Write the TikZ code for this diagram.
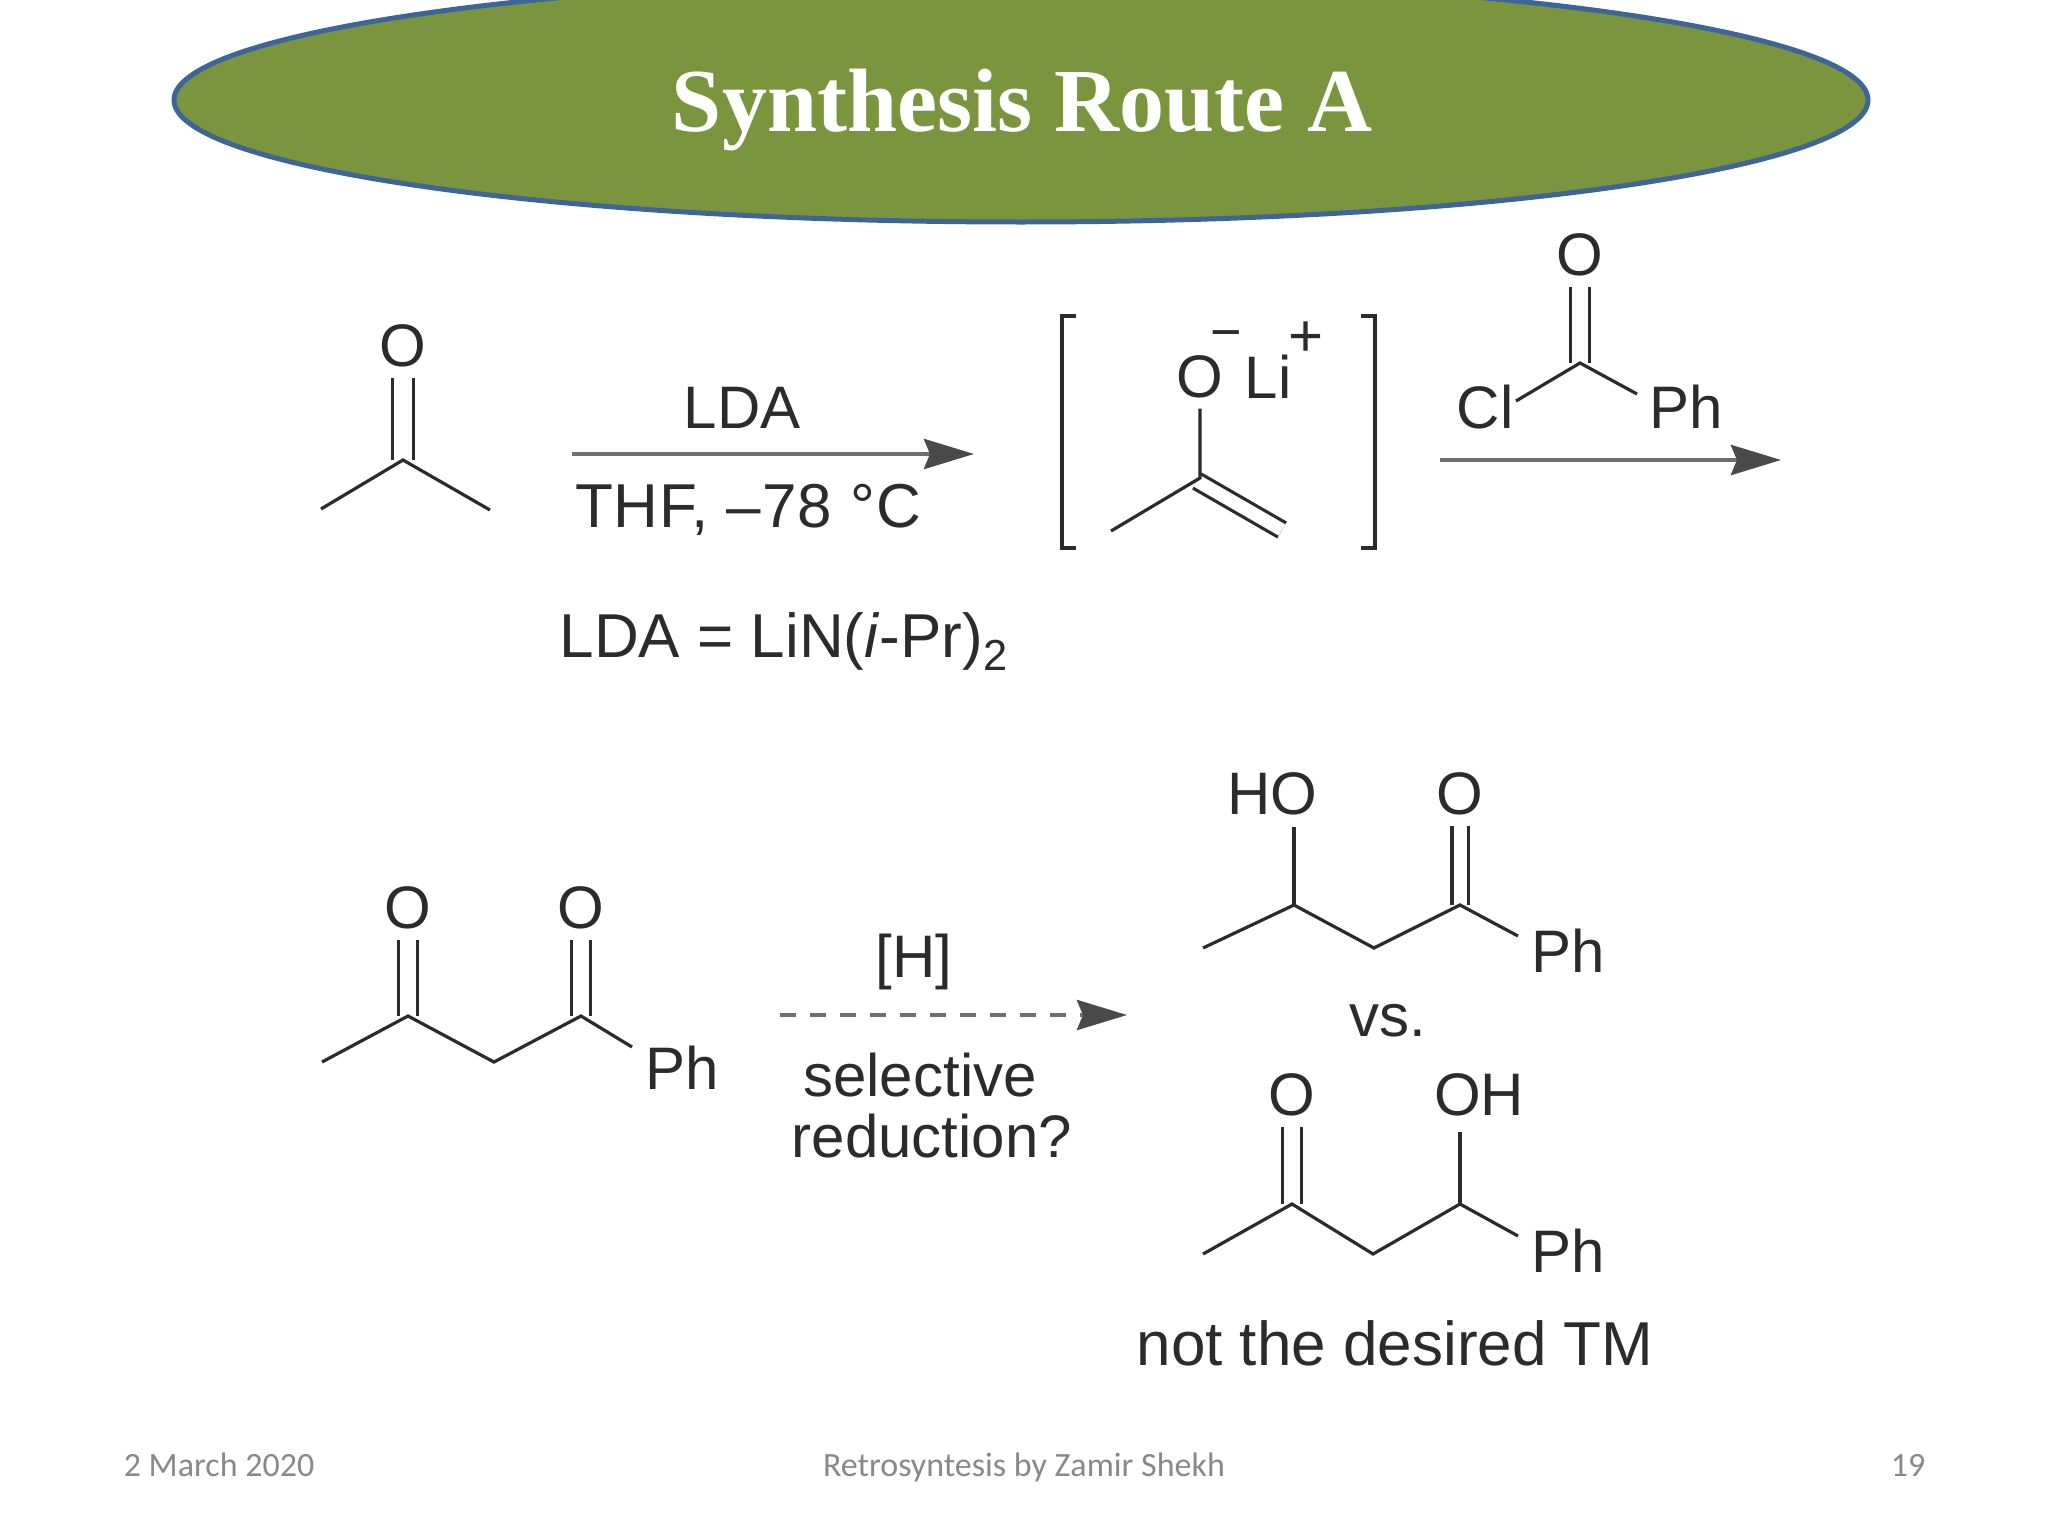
\documentclass[tikz,border=0pt]{standalone}
\usepackage{fontspec}
\setmainfont{Liberation Sans}
\newfontfamily\titlefont{Liberation Serif}
\newfontfamily\footfont{Carlito}
\usetikzlibrary{arrows.meta,shapes.geometric}
\definecolor{ovalgreen}{HTML}{7A953E}
\definecolor{ovalblue}{HTML}{3F6497}
\definecolor{inkgrey}{HTML}{2B2B2B}
\definecolor{arrowgrey}{HTML}{6F6F6F}
\definecolor{tipgrey}{HTML}{4A4A4A}
\definecolor{footgrey}{HTML}{898989}

\begin{document}
\begin{tikzpicture}[x=0.5pt,y=-0.5pt]
	\tikzstyle{oval} = [ellipse, draw=ovalblue, fill=ovalgreen, line width=2.5pt, minimum width=847pt, minimum height=122pt, inner sep=0pt]
	\tikzstyle{heading} = [anchor=base, inner sep=0pt, text=white, font=\titlefont\bfseries\fontsize{45}{54}\selectfont]
	\tikzstyle{label} = [anchor=base, inner sep=0pt, text=inkgrey, font=\fontsize{30}{36}\selectfont]
	\tikzstyle{longlabel} = [label, font=\fontsize{31}{37}\selectfont]
	\tikzstyle{atom} = [label, outer sep=5.5pt]
	\tikzstyle{foot} = [anchor=base, inner sep=0pt, text=footgrey, font=\footfont\fontsize{17}{20}\selectfont]
	\tikzstyle{bond} = [draw=inkgrey, line width=1.6pt]
	\tikzstyle{dbond} = [bond, double=white, double distance=8pt]
	\tikzstyle{arrow} = [draw=arrowgrey, line width=2.2pt, -{Stealth[length=25pt,width=15pt,inset=3pt,color=tipgrey]}]

	\fill[white] (0,0) rectangle (2048,1536);
	\clip (0,0) rectangle (2048,1536);

	\node [oval] (oval) at (1021,100) {};
	\node [heading] (title) at (1022,132) {Synthesis Route A};

	% acetone
	\node [atom] (acO) at (403,366) {O};
	\coordinate (acC) at (403,460);
	\coordinate (acL) at (321,509);
	\coordinate (acR) at (490,510);
	\path [dbond, double distance=9pt] (acO) -- (acC);
	\path [bond] (acL) -- (acC) -- (acR);

	\coordinate (arrowAs) at (572,454);
	\coordinate (arrowAe) at (974,454);
	\path [arrow] (arrowAs) -- (arrowAe);
	\node [label] (lda) at (742,428) {LDA};
	\node [longlabel] (thf) at (748,527) {\addfontfeature{LetterSpace=1.5}THF, –78 °C};
	\node [longlabel] (ldadef) at (784,657) {LDA = LiN(\textit{i}-Pr)\textsubscript{2}};

	% enolate
	\draw [bond] (1076,316) -- (1062,316) -- (1062,548) -- (1076,548);
	\draw [bond] (1361,316) -- (1375,316) -- (1375,548) -- (1361,548);
	\node [atom] (enO) at (1200,397) {O};
	\node [label, font=\fontsize{27}{32}\selectfont] (minus) at (1226,350) {−};
	\node [label] (li) at (1268,398) {Li};
	\node [label] (plus) at (1306,356) {+};
	\coordinate (enC) at (1200,478);
	\coordinate (enL) at (1111,531);
	\coordinate (enA) at (1197,481);
	\coordinate (enB) at (1282,530);
	\path [dbond, double distance=6.5pt] (enA) -- (enB);
	\path [bond] (enO) -- (enC) -- (enL);

	% benzoyl chloride
	\node [atom] (bzO) at (1580,275) {O};
	\coordinate (bzC) at (1580,363);
	\coordinate (bzL) at (1516,401);
	\coordinate (bzR) at (1637,394);
	\node [label] (cl) at (1485,428) {Cl};
	\node [label] (bzPh) at (1686,428) {Ph};
	\path [dbond] (bzO) -- (bzC);
	\path [bond] (bzL) -- (bzC) -- (bzR);

	\coordinate (arrowBs) at (1440,460);
	\coordinate (arrowBe) at (1781,460);
	\path [arrow] (arrowBs) -- (arrowBe);

	% diketone
	\node [atom] (dkOa) at (408,928) {O};
	\node [atom] (dkOb) at (581,928) {O};
	\coordinate (dkL) at (322,1062);
	\coordinate (dkCa) at (408,1016);
	\coordinate (dkM) at (494,1062);
	\coordinate (dkCb) at (581,1016);
	\coordinate (dkR) at (632,1047);
	\node [label] (dkPh) at (682,1089) {Ph};
	\path [dbond] (dkOa) -- (dkCa);
	\path [dbond] (dkOb) -- (dkCb);
	\path [bond] (dkL) -- (dkCa) -- (dkM) -- (dkCb) -- (dkR);

	\coordinate (arrowCs) at (780,1015);
	\coordinate (arrowCe) at (1127,1015);
	\path [arrow, dash pattern=on 8pt off 7pt] (arrowCs) -- (arrowCe);
	\node [label] (hyd) at (914,977) {[H]};
	\node [label] (sel) at (920,1096) {selective};
	\node [label] (red) at (932,1157) {reduction?};

	% hydroxy ketone, upper
	\node [label] (upHO) at (1272,814) {HO};
	\node [atom] (upO) at (1460,814) {O};
	\coordinate (upL) at (1203,948);
	\coordinate (upCa) at (1294,905);
	\coordinate (upM) at (1374,948);
	\coordinate (upCb) at (1460,905);
	\coordinate (upR) at (1518,936);
	\node [label] (upPh) at (1568,972) {Ph};
	\path [dbond, double distance=6.5pt] (upO) -- (upCb);
	\path [bond] (upCa) -- (upCa |- 0,827);
	\path [bond] (upL) -- (upCa) -- (upM) -- (upCb) -- (upR);

	\node [label] (vs) at (1388,1036) {vs.};

	% hydroxy ketone, lower
	\node [atom] (loO) at (1292,1115) {O};
	\node [label] (loOH) at (1479,1115) {OH};
	\coordinate (loL) at (1203,1254);
	\coordinate (loCa) at (1292,1204);
	\coordinate (loM) at (1373,1254);
	\coordinate (loCb) at (1460,1204);
	\coordinate (loR) at (1518,1236);
	\node [label] (loPh) at (1568,1272) {Ph};
	\path [dbond] (loO) -- (loCa);
	\path [bond] (loCb) -- (loCb |- 0,1132);
	\path [bond] (loL) -- (loCa) -- (loM) -- (loCb) -- (loR);

	\node [longlabel] (notTM) at (1395,1365) {not the desired TM};

	\node [foot] (date) at (219,1476) {2 March 2020};
	\node [foot] (byline) at (1024,1476) {Retrosyntesis by Zamir Shekh};
	\node [foot] (page) at (1908,1476) {19};
\end{tikzpicture}
\end{document}
